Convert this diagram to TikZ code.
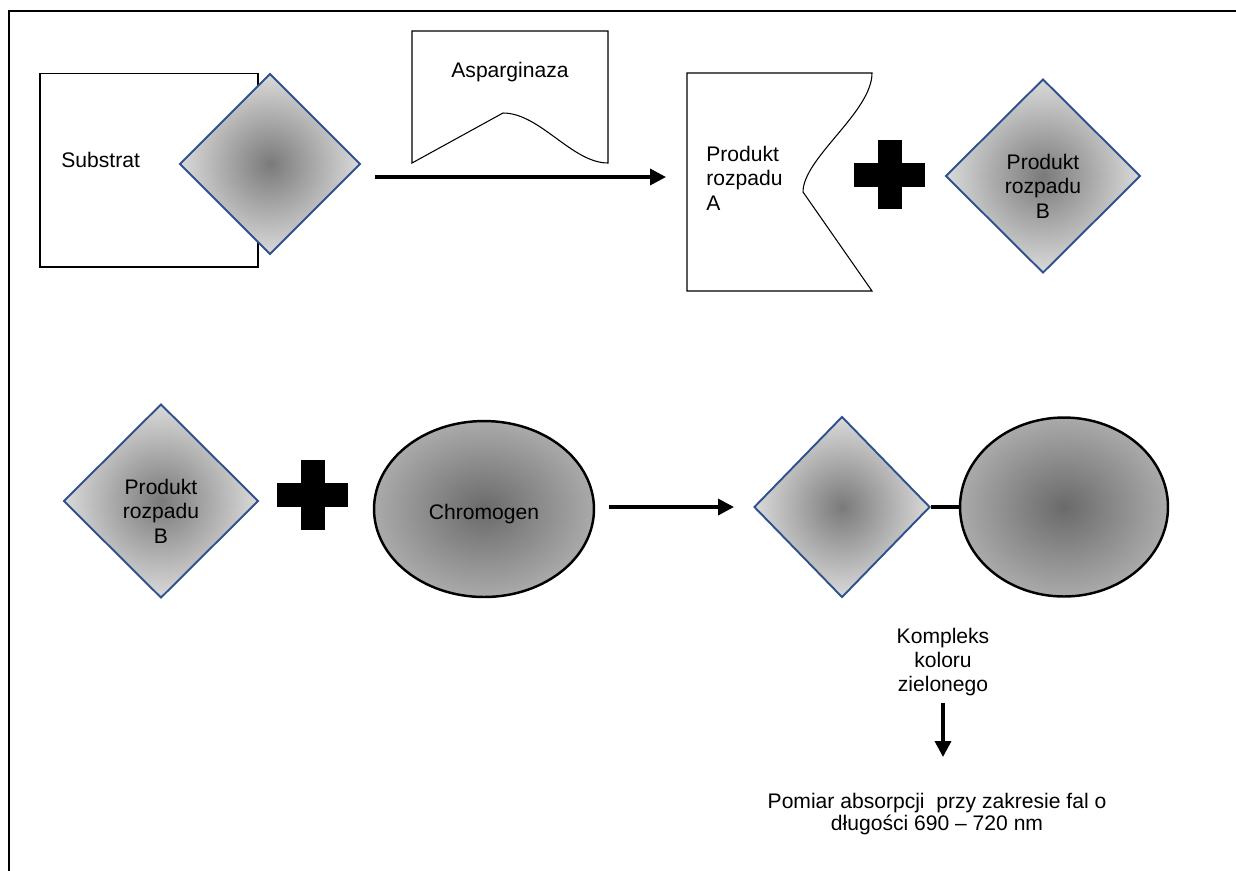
\documentclass[tikz,border=0pt]{standalone}
\usepackage{fontspec}
\setmainfont{Liberation Sans}
\usetikzlibrary{shapes.geometric,arrows.meta}
\definecolor{dblue}{RGB}{47,82,143}
\definecolor{dinner}{RGB}{122,122,122}
\definecolor{douter}{RGB}{218,218,218}
\definecolor{einner}{RGB}{106,106,106}
\definecolor{eouter}{RGB}{170,170,170}
\begin{document}
\begin{tikzpicture}[x=0.02cm,y=-0.02cm,
  font=\fontsize{12}{13.9}\selectfont,
  dia/.style={diamond, draw=dblue, line width=1.1pt, inner sep=0pt,
    inner color=dinner, outer color=douter},
  ell/.style={ellipse, draw=black, line width=1.4pt, inner sep=0pt,
    inner color=einner, outer color=eouter},
  thinshape/.style={draw=black, line width=0.6pt, fill=white},
  arr/.style={line width=2pt, -{Triangle[length=9pt,width=9pt]}},
  txt/.style={align=center, inner sep=0pt},
  plus/.style={fill=black}]
\useasboundingbox (0,0) rectangle (1236,870);
% frame
\draw[line width=1.1pt] (9,880) -- (9,11.3) -- (1250,11.3);

% ---- top row ----
\node[rectangle, thinshape, minimum width=4.36cm, minimum height=3.88cm] (sub) at (149,170) {};
\node[anchor=west, inner sep=0pt] (subtxt) at (61,160) {Substrat};
\node[dia, minimum width=3.62cm, minimum height=3.62cm] (d1) at (270,164) {};

% Asparginaza shape
\draw[thinshape] (412,31) -- (608,31) -- (608,163)
  .. controls (572,163) and (540,113) .. (503,113) -- (412,163) -- cycle;
\node[txt] (asp) at (510,72) {Asparginaza};

\coordinate (a1s) at (375,177);
\coordinate (a1e) at (666,177);
\draw[arr] (a1s) -- (a1e);

% Produkt A shape
\draw[thinshape] (687,73) -- (872,73)
  .. controls (872,112) and (803,158) .. (803,192) -- (872,291) -- (687,291) -- cycle;
\node[anchor=west, align=left, inner sep=0pt] (pa) at (706,178) {Produkt\\rozpadu\\A};

\fill[plus] (878,140) rectangle (902,209);
\fill[plus] (854,163) rectangle (925,187);

\node[dia, minimum width=3.9cm, minimum height=3.88cm] (d2) at (1043,176) {};
\node[txt] (d2txt) at (1043,186) {Produkt\\rozpadu\\B};

% ---- bottom row ----
\node[dia, minimum width=3.9cm, minimum height=3.88cm] (d3) at (161,501) {};
\node[txt] (d3txt) at (161,511) {Produkt\\rozpadu\\B};

\fill[plus] (301,460) rectangle (325,530);
\fill[plus] (277,483) rectangle (348,507);

\node[ell, minimum width=4.4cm, minimum height=3.52cm] (chr) at (484,509) {};
\node[txt] (chrtxt) at (484,514) {Chromogen};

\coordinate (a2s) at (609,507);
\coordinate (a2e) at (734,507);
\draw[arr] (a2s) -- (a2e);

\node[dia, minimum width=3.52cm, minimum height=3.62cm] (d4) at (842,507) {};
\node[ell, minimum width=4.16cm, minimum height=3.58cm] (e2) at (1064,507) {};
\draw[line width=2pt] (d4.east) -- (e2.west);

\node[txt] (komp) at (943,662) {Kompleks\\koloru\\zielonego};
\coordinate (a3s) at (943,703);
\coordinate (a3e) at (943,757);
\draw[arr] (a3s) -- (a3e);

\node[txt, font=\fontsize{12}{13}\selectfont] (pom) at (937,814) {Pomiar absorpcji\ \ przy zakresie fal o\\d\l{}ugo\'sci 690 -- 720 nm};
\end{tikzpicture}
\end{document}
